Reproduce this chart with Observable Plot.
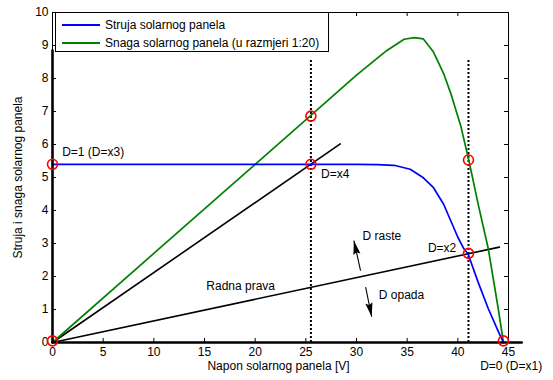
<!DOCTYPE html>
<html><head><meta charset="utf-8">
<script src="https://cdn.jsdelivr.net/npm/d3@7"></script>
<script src="https://cdn.jsdelivr.net/npm/@observablehq/plot@0.6"></script>
<style>
body{margin:0;background:#fff;font-family:"Liberation Sans",Arial,sans-serif}
#wrap{position:relative;width:553px;height:380px;background:#fff}
#legend{position:absolute;left:55px;top:12px;width:274px;height:40px;border:1px solid #000;background:#fff;font-size:12px;color:#000;box-sizing:border-box}
#legend .sw{position:absolute;left:6px;width:38px;height:2px}
#legend .lt{position:absolute;left:49px;line-height:14px;white-space:nowrap}
</style></head><body><div id="wrap"></div><script>
// Blue: solar panel current
const currentV = [0, 10, 20, 30, 32, 33.7, 35.3, 36.6, 37.6, 38.6, 39.3, 40, 40.6, 41, 42, 43, 44, 44.5];
const currentI = [5.4, 5.4, 5.4, 5.4, 5.39, 5.37, 5.25, 4.99, 4.69, 4.19, 3.69, 3.19, 2.84, 2.69, 1.83, 1.03, 0.33, 0];
// Green: solar panel power (scale 1:20)
const powerV = [0, 10, 20, 25.5, 30, 33, 34.7, 35.7, 36.6, 37.6, 38.6, 39.3, 40.3, 41.1, 42, 43, 44, 44.5];
const powerP = [0, 2.7, 5.4, 6.88, 8.1, 8.85, 9.19, 9.24, 9.2, 8.8, 8.15, 7.55, 6.55, 5.5, 4.2, 2.85, 1.0, 0];
// Black load lines
const line1V = [0, 28.4];
const line1I = [0, 6.02];
const radnaV = [0, 44.1];
const radnaI = [0, 2.89];
// Thick axis lines drawn as data
const xAxisV = [0, 46.3];
const xAxisI = [0, 0];
const yAxisV = [0, 0];
const yAxisI = [0, 8.85];
// Dotted verticals
const dottedX = [25.5, 41.05];
const dottedTop = 8.55;
// Red circles
const circleV = [0, 0, 25.5, 25.5, 41.05, 41.05, 44.5];
const circleY = [0.05, 5.4, 5.4, 6.86, 5.53, 2.7, 0.05];
// Annotations
const noteText = ["D=1 (D=x3)", "D=x4", "D raste", "D=x2", "Radna prava", "D opada", "D=0 (D=x1)"];
const noteX = [0.95, 26.5, 30.6, 37.05, 15.18, 32.2, 42.2];
const noteY = [5.77, 5.11, 3.21, 2.87, 1.71, 1.43, -0.73];
// Arrows (tail -> tip)
const arrowX1 = [30.4, 30.9];
const arrowY1 = [2.18, 1.68];
const arrowX2 = [29.74, 31.5];
const arrowY2 = [3.09, 0.78];
// Ticks & labels
const xTicks = [0, 5, 10, 15, 20, 25, 30, 35, 40, 45];
const yTicks = [0, 1, 2, 3, 4, 5, 6, 7, 8, 9, 10];
const xLabel = "Napon solarnog panela [V]";
const yLabel = "Struja i snaga solarnog panela";
const legendLabels = ["Struja solarnog panela", "Snaga solarnog panela (u razmjeri 1:20)"];
const legendColors = ["#0000ff", "#008000"];

const toPts = (xs, ys) => xs.map((x, i) => ({x, y: ys[i]}));
const current = toPts(currentV, currentI);
const power = toPts(powerV, powerP);
const notes = noteText.map((t, i) => ({t, x: noteX[i], y: noteY[i]}));
const arrows = arrowX1.map((x1, i) => ({x1, y1: arrowY1[i], x2: arrowX2[i], y2: arrowY2[i]}));
const circles = toPts(circleV, circleY);

// narrow filled arrowhead, tip at origin pointing up
const headSymbol = {draw(ctx) { ctx.moveTo(0, 0); ctx.lineTo(-3.6, 14); ctx.lineTo(0, 12); ctx.lineTo(3.6, 14); ctx.closePath(); }};

function makeChart(angles) {
  return Plot.plot({
    width: 553, height: 380,
    marginLeft: 52, marginRight: 45, marginTop: 12, marginBottom: 38,
    x: {domain: [0, 45]},
    y: {domain: [0, 10]},
    style: {fontFamily: "'Liberation Sans', Arial, sans-serif", fontSize: "12px", color: "black", background: "white"},
    marks: [
      Plot.frame({stroke: "black", strokeWidth: 1}),
      Plot.ruleX(xTicks, {x: d => d, y1: 0, y2: 0, insetTop: -4, stroke: "black"}),
      Plot.ruleX(xTicks, {x: d => d, y1: 10, y2: 10, insetBottom: -4, stroke: "black"}),
      Plot.ruleY(yTicks, {y: d => d, x1: 0, x2: 0, insetRight: -4, stroke: "black"}),
      Plot.ruleY(yTicks, {y: d => d, x1: 45, x2: 45, insetLeft: -4, stroke: "black"}),
      Plot.axisX({ticks: xTicks, tickSize: 0, tickPadding: 5, label: null}),
      Plot.axisY({ticks: yTicks, tickSize: 0, tickPadding: 4, label: null}),
      Plot.text([xLabel], {text: d => d, frameAnchor: "bottom", lineAnchor: "middle", textAnchor: "middle", dy: 24, dx: -2}),
      Plot.text([yLabel], {text: d => d, frameAnchor: "left", textAnchor: "middle", lineAnchor: "middle", rotate: -90, dx: -34}),
      Plot.ruleX(dottedX, {x: d => d, y1: 0, y2: dottedTop, stroke: "black", strokeWidth: 2, strokeDasharray: "2,2"}),
      Plot.line(toPts(line1V, line1I), {x: "x", y: "y", stroke: "black", strokeWidth: 1.6}),
      Plot.line(toPts(radnaV, radnaI), {x: "x", y: "y", stroke: "black", strokeWidth: 1.6}),
      Plot.line(power, {x: "x", y: "y", stroke: "#008000", strokeWidth: 1.7}),
      Plot.line(current, {x: "x", y: "y", stroke: "#0000ff", strokeWidth: 1.7}),
      Plot.line(toPts(xAxisV, xAxisI), {x: "x", y: "y", stroke: "black", strokeWidth: 2.6}),
      Plot.line(toPts(yAxisV, yAxisI), {x: "x", y: "y", stroke: "black", strokeWidth: 2.6}),
      Plot.dot(circles, {x: "x", y: "y", r: 5, stroke: "#ff0000", strokeWidth: 1.6, fill: "none"}),
      Plot.text(notes, {x: "x", y: "y", text: "t", textAnchor: "start", fill: "black"}),
      Plot.link(arrows, {x1: "x1", y1: "y1", x2: "x2", y2: "y2", stroke: "black", strokeWidth: 1.1}),
      Plot.dot(arrows, {x: "x2", y: "y2", symbol: headSymbol, fill: "black", stroke: "none", rotate: (d, i) => angles[i]})
    ]
  });
}
// first pass to obtain scales, then compute head angles in pixel space
const probe = makeChart(arrows.map(() => 0));
const sx = probe.scale("x"), sy = probe.scale("y");
const angles = arrows.map(a => {
  const dx = sx.apply(a.x2) - sx.apply(a.x1);
  const dy = sy.apply(a.y2) - sy.apply(a.y1);
  return Math.atan2(dx, -dy) * 180 / Math.PI;
});
const chart = makeChart(angles);
const wrap = document.getElementById("wrap");
wrap.appendChild(chart);
const legend = document.createElement("div");
legend.id = "legend";
legendLabels.forEach((lab, i) => {
  const sw = document.createElement("div");
  sw.className = "sw";
  sw.style.top = (11 + i * 18) + "px";
  sw.style.background = legendColors[i];
  const lt = document.createElement("div");
  lt.className = "lt";
  lt.style.top = (5 + i * 18) + "px";
  lt.textContent = lab;
  legend.appendChild(sw);
  legend.appendChild(lt);
});
wrap.appendChild(legend);
</script></body></html>
